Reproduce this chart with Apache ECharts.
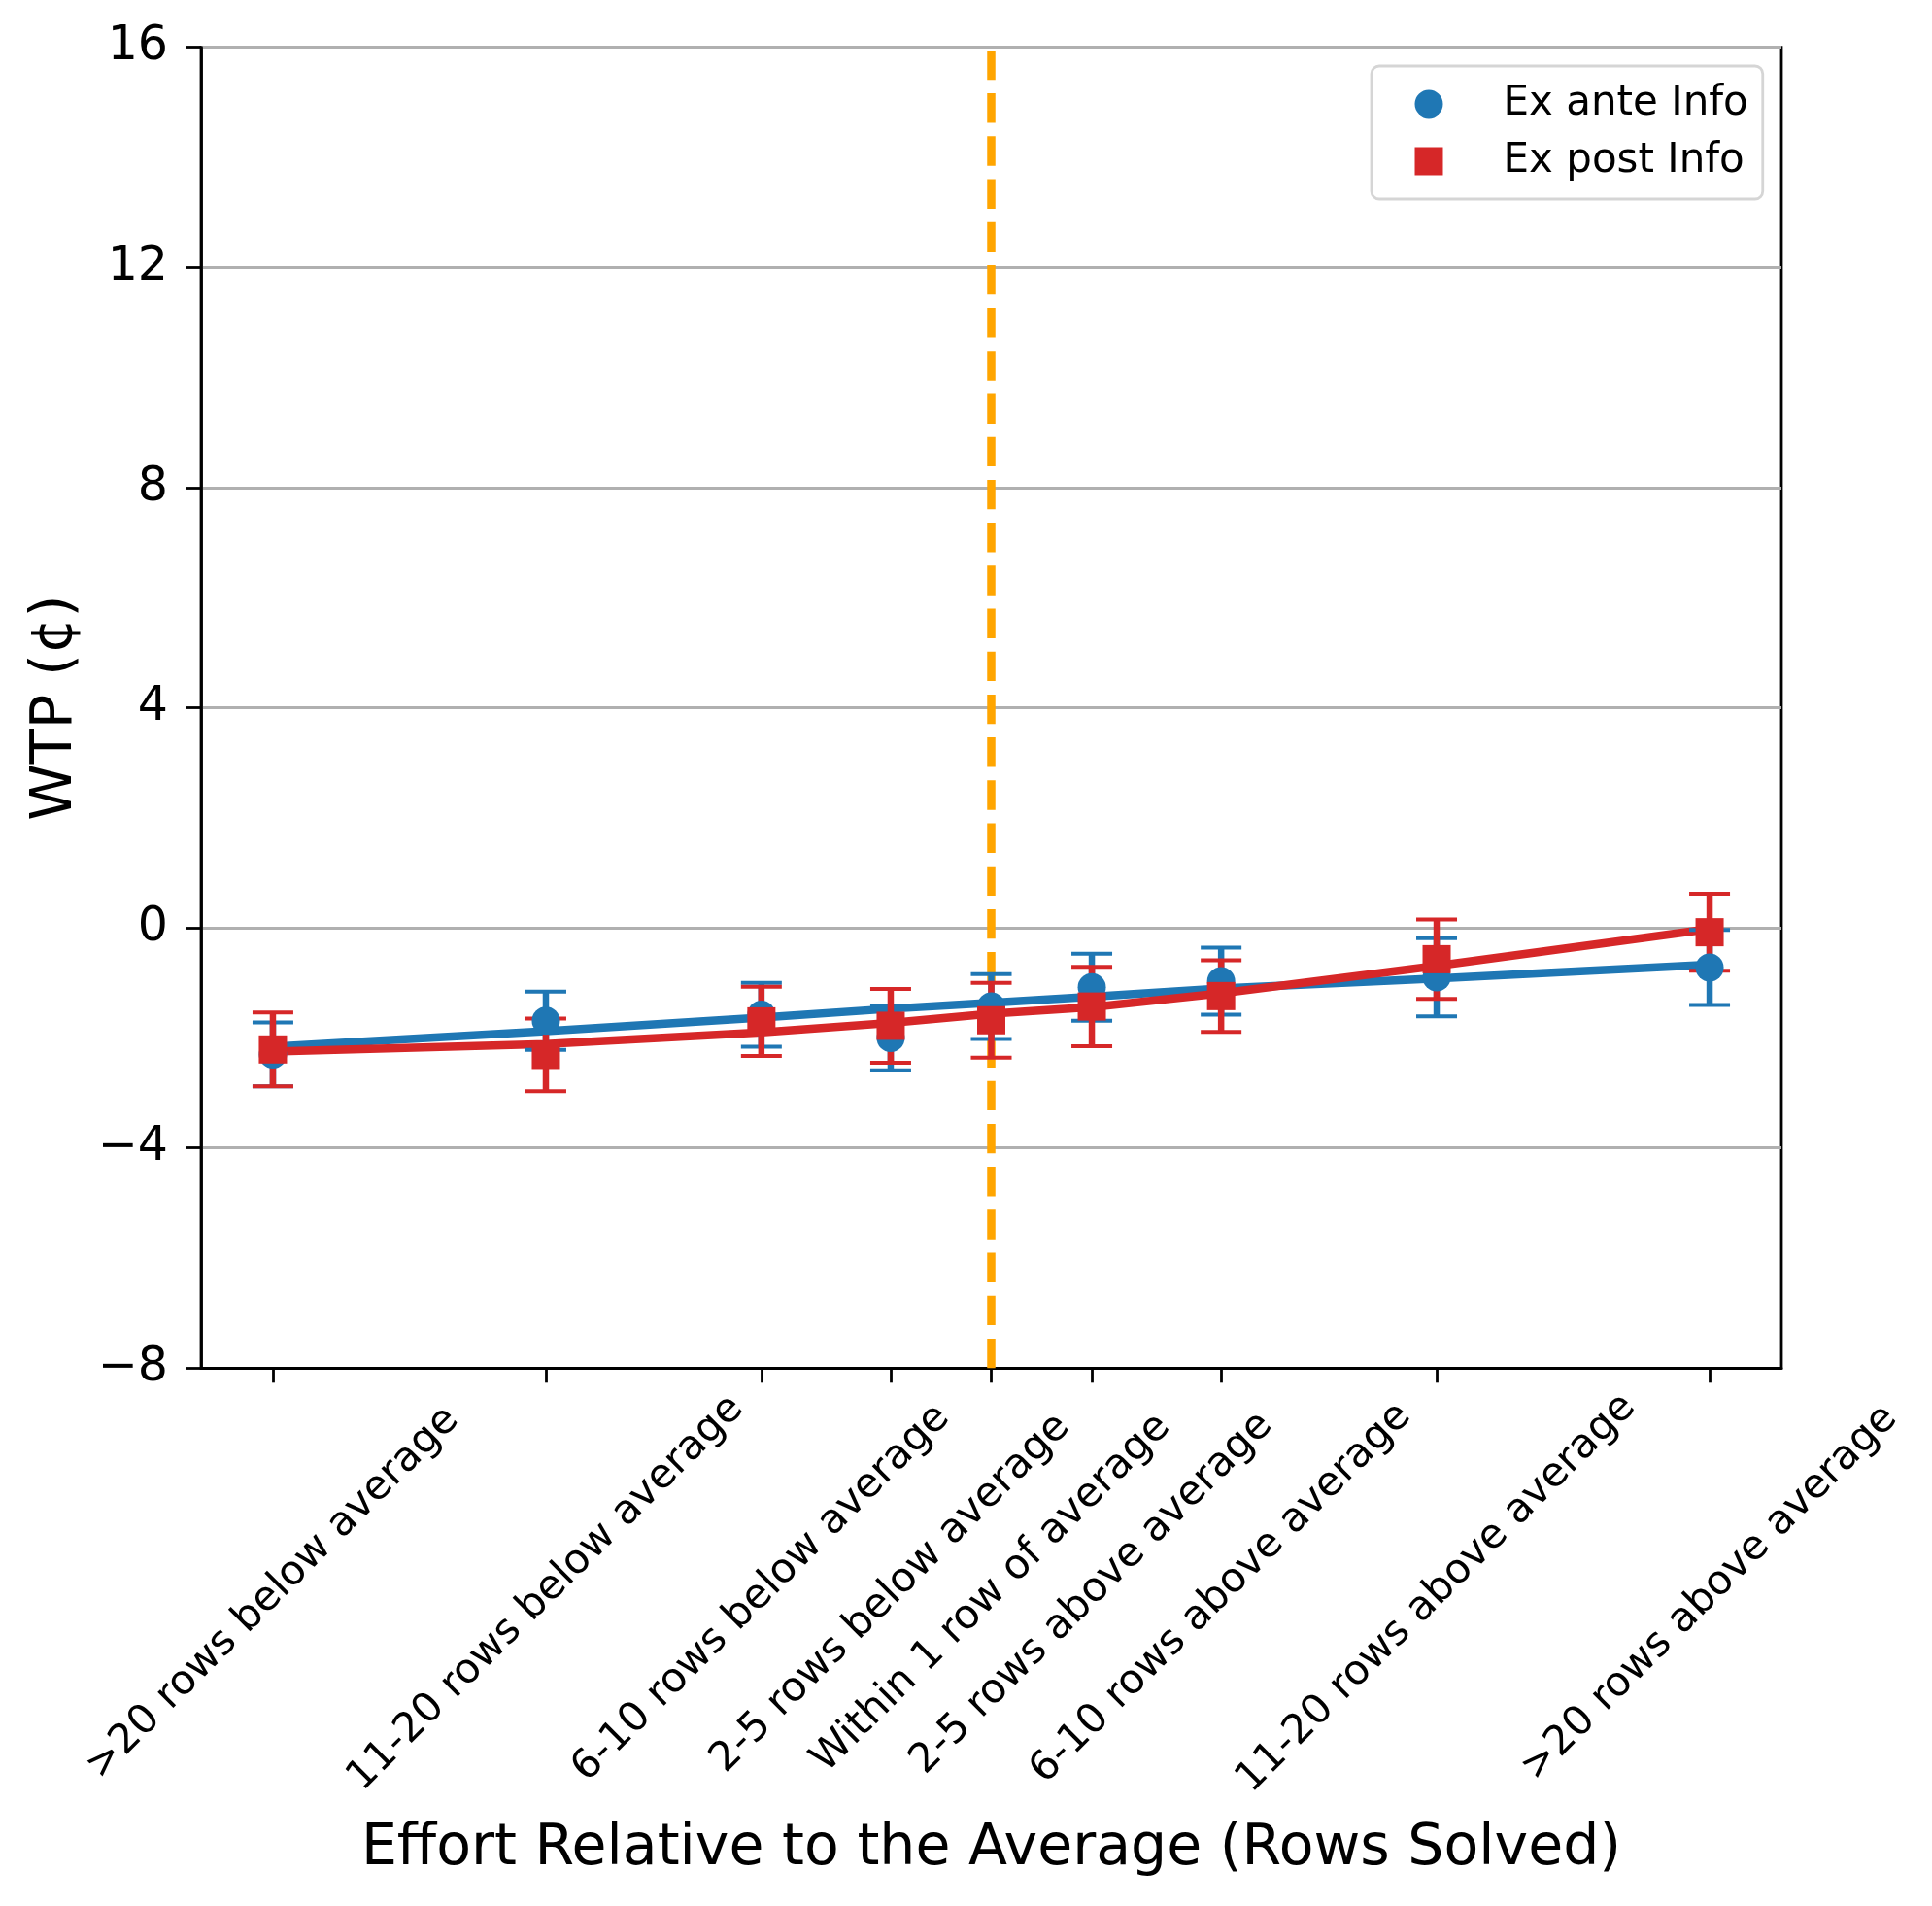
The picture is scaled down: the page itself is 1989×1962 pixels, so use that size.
<!DOCTYPE html>
<html><head><meta charset="utf-8">
<script src="https://cdn.jsdelivr.net/npm/echarts@6/dist/echarts.min.js"></script>
<style>html,body{margin:0;padding:0;background:#fff}#c{width:1989px;height:1962px}</style>
</head><body><div id="c"></div>
<script>
// ---- data ----
const categories = [
  '>20 rows below average', '11-20 rows below average', '6-10 rows below average',
  '2-5 rows below average', 'Within 1 row of average', '2-5 rows above average',
  '6-10 rows above average', '11-20 rows above average', '>20 rows above average'
];
const xPositions = [-25, -15.5, -8, -3.5, 0, 3.5, 8, 15.5, 25];
const exAnteMean = [-2.30, -1.69, -1.58, -2.00, -1.43, -1.08, -0.97, -0.90, -0.72];
const exAnteErr  = [0.58, 0.53, 0.58, 0.59, 0.59, 0.61, 0.61, 0.71, 0.68];
const exPostMean = [-2.21, -2.31, -1.70, -1.78, -1.68, -1.43, -1.24, -0.57, -0.08];
const exPostErr  = [0.67, 0.66, 0.63, 0.67, 0.68, 0.72, 0.65, 0.72, 0.70];
const exAnteFit  = [-2.16, -1.88, -1.63, -1.47, -1.36, -1.25, -1.10, -0.92, -0.67];
const exPostFit  = [-2.25, -2.11, -1.90, -1.73, -1.56, -1.44, -1.19, -0.69, -0.02];
const yTicks = [-8, -4, 0, 4, 8, 12, 16];
const refLineX = 0;

const BLUE = '#1f77b4', RED = '#d62728', ORANGE = '#FFA500';
const FONT = 'DejaVu Sans';

const pts = (ys) => xPositions.map((x, i) => [x, ys[i]]);
const errData = (m, e) => xPositions.map((x, i) => [x, m[i] - e[i], m[i] + e[i]]);

function errRender(color) {
  return function (params, api) {
    const x = api.value(0), lo = api.value(1), hi = api.value(2);
    const p1 = api.coord([x, lo]), p2 = api.coord([x, hi]);
    const cw = 21;
    return {
      type: 'group',
      children: [
        { type: 'line', shape: { x1: p1[0], y1: p1[1], x2: p2[0], y2: p2[1] }, style: { stroke: color, lineWidth: 6.5 } },
        { type: 'line', shape: { x1: p1[0] - cw, y1: p1[1], x2: p1[0] + cw, y2: p1[1] }, style: { stroke: color, lineWidth: 4 } },
        { type: 'line', shape: { x1: p2[0] - cw, y1: p2[1], x2: p2[0] + cw, y2: p2[1] }, style: { stroke: color, lineWidth: 4 } }
      ]
    };
  };
}

const fmtNum = (v) => (v < 0 ? '\u2212' + Math.abs(v) : String(v));

const chart = echarts.init(document.getElementById('c'), null, { renderer: 'canvas', width: 1989, height: 1962 });
chart.setOption({
  animation: false,
  backgroundColor: '#ffffff',
  textStyle: { fontFamily: FONT },
  grid: {
    left: 207, top: 48.7, width: 1627, height: 1359.6,
    show: true, borderColor: '#000', borderWidth: 2.8, backgroundColor: 'transparent',
    containLabel: false, outerBoundsMode: 'none'
  },
  legend: {
    orient: 'vertical', left: 1412, top: 68,
    padding: [18, 15, 18, 44.5], itemGap: 17, itemWidth: 29, itemHeight: 29,
    backgroundColor: '#fff', borderColor: '#d5d5d5', borderWidth: 2.8, borderRadius: 8,
    selectedMode: false,
    textStyle: { fontFamily: FONT, fontSize: 42, color: '#000', lineHeight: 42, padding: [0, 0, 0, 57] },
    data: [{ name: 'Ex ante Info', icon: 'circle' }, { name: 'Ex post Info', icon: 'rect' }]
  },
  xAxis: {
    type: 'value', min: -27.5, max: 27.5,
    name: 'Effort Relative to the Average (Rows Solved)',
    nameLocation: 'middle', nameGap: 466,
    nameTextStyle: { fontFamily: FONT, fontSize: 58.5, color: '#000' },
    axisLine: { show: true, onZero: false, lineStyle: { color: '#000', width: 2.8 } },
    axisTick: { show: true, length: 15, lineStyle: { color: '#000', width: 2.8 }, customValues: xPositions },
    axisLabel: {
      show: true, customValues: xPositions, rotate: 45, align: 'center', verticalAlign: 'middle',
      margin: 232, fontFamily: FONT, fontSize: 42, color: '#000',
      formatter: (v) => { const i = xPositions.indexOf(v); return i >= 0 ? categories[i] : ''; }
    },
    splitLine: { show: false }
  },
  yAxis: {
    type: 'value', min: yTicks[0], max: yTicks[yTicks.length - 1], interval: 4,
    name: 'WTP (¢)', nameLocation: 'middle', nameRotate: 90, nameGap: 120,
    nameTextStyle: { fontFamily: FONT, fontSize: 59, color: '#000' },
    axisLine: { show: true, onZero: false, lineStyle: { color: '#000', width: 2.8 } },
    axisTick: { show: true, length: 15, lineStyle: { color: '#000', width: 2.8 } },
    axisLabel: { margin: 34, fontFamily: FONT, fontSize: 49, color: '#000', formatter: fmtNum },
    splitLine: { show: true, lineStyle: { color: '#b0b0b0', width: 2.8 } }
  },
  series: [
    {
      name: 'refline', type: 'line', data: [[refLineX, yTicks[0]], [refLineX, yTicks[yTicks.length - 1]]],
      symbol: 'none', silent: true, z: 1,
      lineStyle: { color: ORANGE, width: 8.5, type: [30.4, 13.8], cap: 'butt' }
    },
    {
      name: 'exAnteFit', type: 'line', data: pts(exAnteFit), symbol: 'none', z: 2,
      lineStyle: { color: BLUE, width: 8.5 }
    },
    {
      name: 'exPostFit', type: 'line', data: pts(exPostFit), symbol: 'none', z: 3,
      lineStyle: { color: RED, width: 8.5 }
    },
    {
      name: 'exAnteErr', type: 'custom', data: errData(exAnteMean, exAnteErr), z: 4,
      encode: { x: 0, y: [1, 2] }, renderItem: errRender(BLUE)
    },
    {
      name: 'exPostErr', type: 'custom', data: errData(exPostMean, exPostErr), z: 5,
      encode: { x: 0, y: [1, 2] }, renderItem: errRender(RED)
    },
    {
      name: 'Ex ante Info', type: 'scatter', data: pts(exAnteMean), symbol: 'circle', symbolSize: 29, z: 6,
      itemStyle: { color: BLUE, opacity: 1 }
    },
    {
      name: 'Ex post Info', type: 'scatter', data: pts(exPostMean), symbol: 'rect', symbolSize: 29, z: 7,
      itemStyle: { color: RED, opacity: 1 }
    }
  ]
});
</script>
</body></html>
